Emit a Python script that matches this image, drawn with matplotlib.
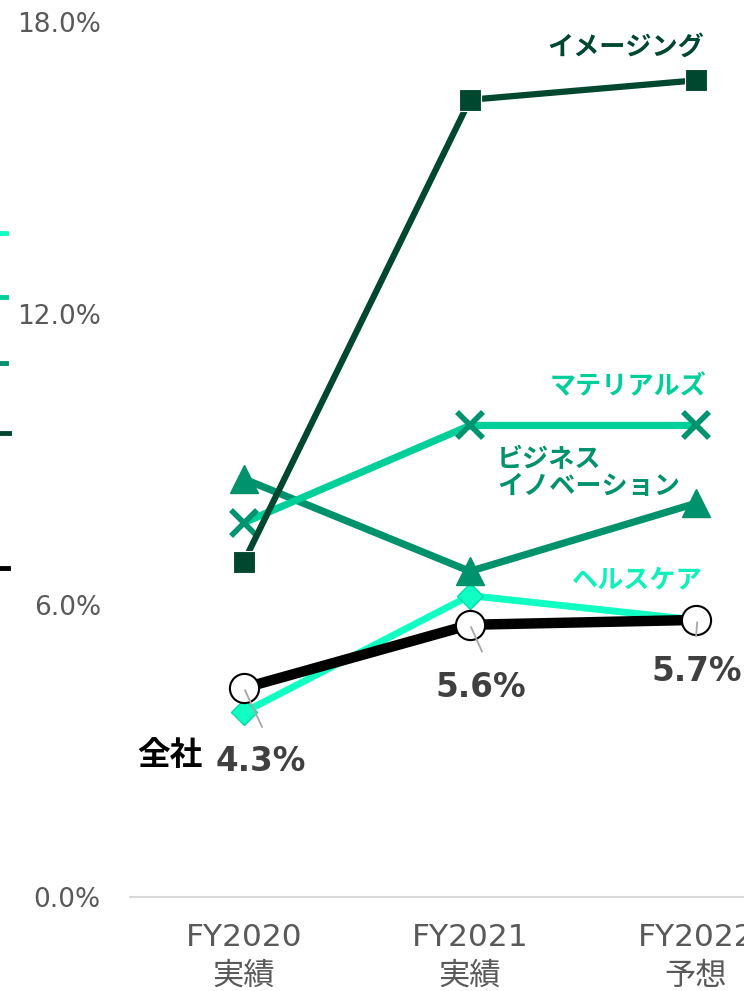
import matplotlib.pyplot as plt
from matplotlib.lines import Line2D

plt.rcParams['font.family'] = ['DejaVu Sans', 'Noto Sans CJK JP']

years = ['FY2020\n実績', 'FY2021\n実績', 'FY2022\n予想']
imaging = [6.9, 16.4, 16.8]
materials = [7.7, 9.7, 9.7]
business = [8.6, 6.7, 8.1]
healthcare = [3.8, 6.2, 5.7]
total = [4.3, 5.6, 5.7]
yticks = [0, 6, 12, 18]

c_img = '#00472f'
c_mat = '#00cf9a'
c_mat_mk = '#00936f'
c_biz = '#00916d'
c_hc = '#12ffc4'
c_hc_txt = '#10f0bb'

fig = plt.figure(figsize=(7.44, 9.91), dpi=100)
ax = fig.add_axes([130 / 744, 1 - 897 / 991, 614 / 744, 875 / 991])

x = list(range(len(years)))

ax.plot(x, healthcare, color=c_hc, lw=5, marker='D', ms=13,
        mfc=c_hc, mec='#00dca8', mew=1, zorder=3)
ax.plot(x, business, color=c_biz, lw=5.2, marker='^', ms=20,
        mfc=c_biz, mec=c_biz, zorder=4)
ax.plot(x, materials, color=c_mat, lw=5.2, marker='x', ms=19,
        mec=c_mat_mk, mew=4, zorder=5)
ax.plot(x, imaging, color=c_img, lw=4.5, marker='s', ms=16.5,
        mfc=c_img, mec='white', mew=0.8, zorder=6)
ax.plot(x, total, color='black', lw=7.5, marker='o', ms=21,
        mfc='white', mec='black', mew=1.5, zorder=7)

# leader lines from the company-wide points toward their labels
leaders = [(0.08, 3.5), (1.053, 5.05), (2.0, 5.37)]
for xi, yi, (lx, ly) in zip(x, total, leaders):
    ax.plot([xi + 0.005, lx], [yi - 0.05, ly], color='#a6a6a6', lw=1.3, zorder=8)

lab = dict(fontsize=18.8, fontweight='bold', va='center')
ax.text(2.035, 17.47, 'イメージング', color=c_img, ha='right', **lab)
ax.text(2.045, 10.49, 'マテリアルズ', color=c_mat, ha='right', **lab)
ax.text(1.12, 8.72, 'ビジネス\nイノベーション', color=c_biz, ha='left',
        linespacing=1.05, **lab)
ax.text(2.03, 6.52, 'ヘルスケア', color=c_hc_txt, ha='right', **lab)
ax.text(-0.327, 2.92, '全社', color='black', ha='center',
        fontsize=23.5, fontweight='bold', va='center')

val = dict(fontsize=23.5, fontweight='bold', color='#404040', ha='center', va='center')
ax.text(0.075, 2.78, f'{total[0]:.1f}%', **val)
ax.text(1.049, 4.30, f'{total[1]:.1f}%', **val)
ax.text(2.004, 4.63, f'{total[2]:.1f}%', **val)

ax.set_xlim(-0.504, 2.212)
ax.set_ylim(0, 18)
ax.set_xticks(x)
ax.set_xticklabels(years, fontsize=22.5, color='#595959', linespacing=1.4)
ax.set_yticks(yticks)
ax.set_yticklabels([f'{v:.1f}%' for v in yticks], fontsize=19, color='#595959')
ax.tick_params(axis='both', length=0)
ax.tick_params(axis='x', pad=19)
ax.tick_params(axis='y', pad=21)
for s in ['top', 'right', 'left']:
    ax.spines[s].set_visible(False)
ax.spines['bottom'].set_color('#d9d9d9')
ax.spines['bottom'].set_linewidth(1.5)

# short colour swatches on the left edge
swatches = [(233, c_hc, 6), (297, c_mat, 6), (363, c_biz, 6), (433, c_img, 9), (568, 'black', 8)]
for py, col, w in swatches:
    fig.add_artist(Line2D([0, w / 744], [1 - py / 991] * 2, color=col, lw=3.5,
                          transform=fig.transFigure))

fig.savefig('out.png', dpi=100)
